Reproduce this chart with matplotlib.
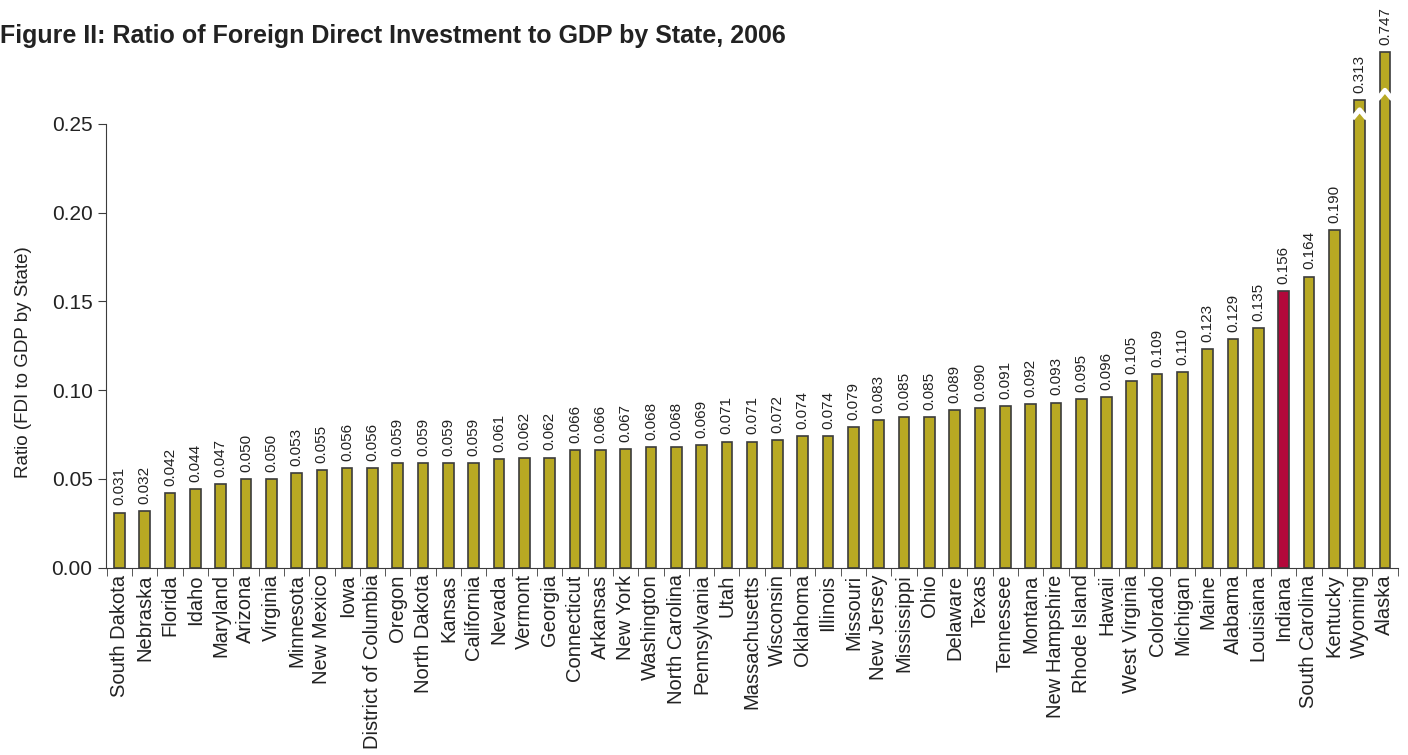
import numpy as np
import matplotlib.pyplot as plt

plt.rcParams['font.family'] = ['Liberation Sans', 'DejaVu Sans']

# FDI / state GDP ratios, 2006, sorted ascending
states = ['South Dakota', 'Nebraska', 'Florida', 'Idaho', 'Maryland', 'Arizona',
          'Virginia', 'Minnesota', 'New Mexico', 'Iowa', 'District of Columbia',
          'Oregon', 'North Dakota', 'Kansas', 'California', 'Nevada', 'Vermont',
          'Georgia', 'Connecticut', 'Arkansas', 'New York', 'Washington',
          'North Carolina', 'Pennsylvania', 'Utah', 'Massachusetts', 'Wisconsin',
          'Oklahoma', 'Illinois', 'Missouri', 'New Jersey', 'Mississippi', 'Ohio',
          'Delaware', 'Texas', 'Tennessee', 'Montana', 'New Hampshire',
          'Rhode Island', 'Hawaii', 'West Virginia', 'Colorado', 'Michigan',
          'Maine', 'Alabama', 'Louisiana', 'Indiana', 'South Carolina',
          'Kentucky', 'Wyoming', 'Alaska']
ratios = [0.031, 0.032, 0.042, 0.044, 0.047, 0.050, 0.050, 0.053, 0.055, 0.056,
          0.056, 0.059, 0.059, 0.059, 0.059, 0.061, 0.062, 0.062, 0.066, 0.066,
          0.067, 0.068, 0.068, 0.069, 0.071, 0.071, 0.072, 0.074, 0.074, 0.079,
          0.083, 0.085, 0.085, 0.089, 0.090, 0.091, 0.092, 0.093, 0.095, 0.096,
          0.105, 0.109, 0.110, 0.123, 0.129, 0.135, 0.156, 0.164, 0.190, 0.313,
          0.747]
highlight = 'Indiana'

# off-scale bars: (drawn top, break position)
broken = {'Wyoming': (0.2635, 0.2555), 'Alaska': (0.2905, 0.2665)}

olive = '#b8a923'
red = '#b3083b'
edge = '#3c3c3c'
txt = '#222222'

x = np.arange(len(states))
vals = np.array(ratios)
shown = vals.copy()
for name, (top, brk) in broken.items():
    shown[states.index(name)] = top
colors = [red if s == highlight else olive for s in states]

fig = plt.figure(figsize=(14.08, 7.55), dpi=100)
ax = fig.add_axes([0.0756, 0.2483, 0.917, 0.705])

width = 0.42
ax.bar(x, shown, width=width, color=colors, edgecolor=edge, linewidth=1.2, zorder=2)

# white zig-zag break marks on the clipped bars
for name, (top, brk) in broken.items():
    i = states.index(name)
    xs = [i - width / 2 - 0.08, i, i + width / 2 + 0.08]
    ys = [brk - 0.0025, brk + 0.0025, brk - 0.0025]
    ax.plot(xs, ys, color='white', lw=3.5, solid_capstyle='butt', zorder=3)

# value labels
for xi, v, h in zip(x, vals, shown):
    ax.text(xi, h + 0.004, f'{v:.3f}', rotation=90, ha='center', va='bottom',
            fontsize=11, color=txt)

ax.set_xlim(-0.51, len(states) - 0.5)
ax.set_ylim(0, 0.30)
ax.set_yticks([0.0, 0.05, 0.10, 0.15, 0.20, 0.25])
ax.set_yticklabels(['0.00', '0.05', '0.10', '0.15', '0.20', '0.25'])
ax.set_xticks(x)
ax.set_xticklabels(states, rotation=90, fontsize=14.5, color=txt)
ax.set_xticks(np.arange(-0.5, len(states)), minor=True)
ax.tick_params(axis='x', which='major', length=0, pad=5)
ax.tick_params(axis='x', which='minor', length=6, direction='out', color=edge)
ax.tick_params(axis='y', labelsize=15, labelcolor=txt, length=6, color=edge, pad=4)

for side in ['top', 'right']:
    ax.spines[side].set_visible(False)
ax.spines['left'].set_bounds(0, 0.25)
ax.spines['left'].set_color(edge)
ax.spines['bottom'].set_color(edge)

ax.set_ylabel('Ratio (FDI to GDP by State)', fontsize=13.5, color=txt)
ax.yaxis.set_label_coords(-0.058, 0.385)

fig.text(0.0, 0.952, 'Figure II: Ratio of Foreign Direct Investment to GDP by State, 2006',
         fontsize=18, fontweight='bold', color=txt, va='center', ha='left')

fig.savefig('out.png', dpi=100)
